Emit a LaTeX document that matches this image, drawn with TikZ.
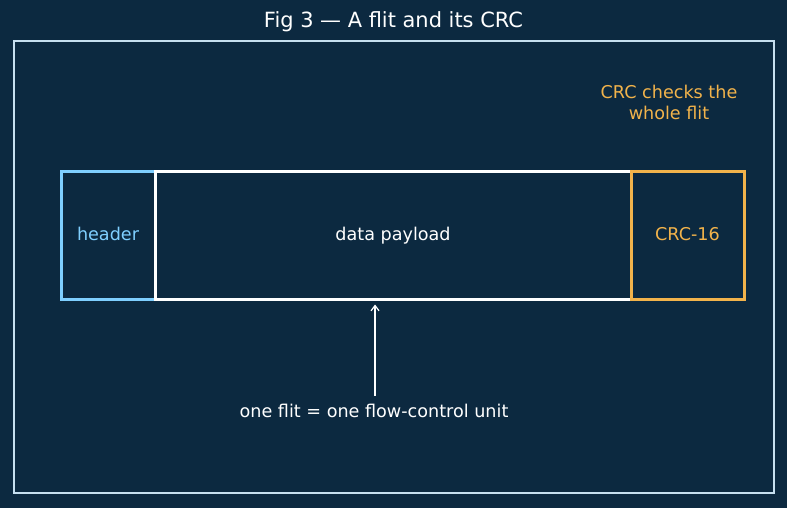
\documentclass[tikz,border=0pt]{standalone}
\usepackage{fontspec}
\setmainfont{DejaVu Sans}
\usetikzlibrary{arrows.meta}
\definecolor{bg}{HTML}{0C2940}
\definecolor{framec}{HTML}{C6DFF0}
\definecolor{hdrc}{HTML}{7FCFFF}
\definecolor{crcc}{HTML}{F2B34B}
\tikzset{
  fieldbox/.style={draw, line width=2.25pt, inner sep=0pt, minimum height=96pt, text height=0.8em, text depth=0em, font=\fontsize{13.2pt}{15.75pt}\selectfont},
  note/.style={font=\fontsize{13.2pt}{15.75pt}\selectfont, align=center},
}
\begin{document}
\begin{tikzpicture}[x=0.75pt,y=-0.75pt]
\fill[bg] (0,0) rectangle (787,508);
\useasboundingbox (0,0) rectangle (787,508);
\draw[framec, line width=1.2pt] (14,41) rectangle (774,493);
\node[text=white, font=\fontsize{15.7pt}{18pt}\selectfont] (title) at (393.5,22) {Fig 3 — A flit and its CRC};
\node[fieldbox, draw=hdrc, text=hdrc, minimum width=70.5pt] (hdr) at (108,235) {header};
\node[fieldbox, draw=white, text=white, minimum width=357pt] (payload) at (393,235) {data payload};
\node[fieldbox, draw=crcc, text=crcc, minimum width=84.75pt] (crc) at (687.5,235) {CRC-16};
\node[note, text=crcc] (crcnote) at (669,102.5) {CRC checks the\\whole flit};
\node[note, text=white, inner sep=2pt] (lbl) at (374,411) {one flit = one flow-control unit};
\draw[white, line width=0.9pt, -{Straight Barb[length=4pt,width=6pt]}, shorten >=3pt] ([xshift=0.75pt,yshift=4pt]lbl.north) -- ([xshift=0.75pt]lbl.north |- payload.south);
\end{tikzpicture}
\end{document}
